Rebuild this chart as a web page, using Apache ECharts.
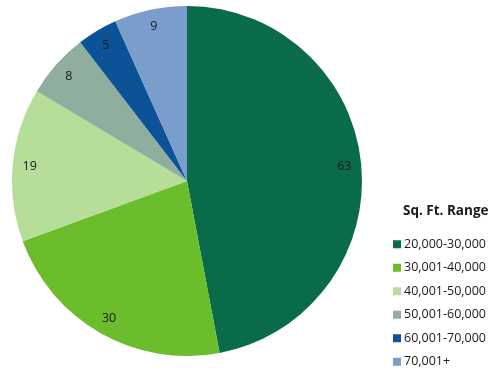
<!DOCTYPE html>
<html>
<head>
<meta charset="utf-8">
<script src="https://cdn.jsdelivr.net/npm/echarts@6/dist/echarts.min.js"></script>
<style>
html,body{margin:0;padding:0;background:#fff;}
#chart{width:495px;height:371px;}
</style>
</head>
<body>
<div id="chart"></div>
<script>
// sq. ft. ranges and counts
var ranges = ['20,000-30,000', '30,001-40,000', '40,001-50,000', '50,001-60,000', '60,001-70,000', '70,001+'];
var counts = [63, 30, 19, 8, 5, 9];
var colors = ['#0a6b4a', '#6cbd2c', '#b6de98', '#8fae9d', '#0b5296', '#7b9dcc'];

var fontName = '"Open Sans", "Noto Sans", sans-serif';

var pieData = [];
for (var i = 0; i < ranges.length; i++) {
    pieData.push({ name: ranges[i], value: counts[i], itemStyle: { color: colors[i] } });
}

var myChart = echarts.init(document.getElementById('chart'));
var option = {
    animation: false,
    title: {
        text: 'Sq. Ft. Range',
        left: 398,
        top: 199,
        textStyle: { fontSize: 13.5, fontWeight: 'bold', color: '#1a1a1a', fontFamily: fontName }
    },
    legend: {
        orient: 'vertical',
        left: 388,
        top: 232,
        height: 150,
        itemWidth: 8,
        itemHeight: 8,
        itemGap: 9,
        icon: 'rect',
        textStyle: { fontSize: 12.5, color: '#1a1a1a', fontFamily: fontName, lineHeight: 14.5, padding: [0, 0, 0, -2] },
        data: ranges
    },
    series: [
        {
            name: 'Sq. Ft. Range',
            type: 'pie',
            center: [187, 181],
            radius: [0, 175],
            startAngle: 90,
            clockwise: true,
            label: { show: false },
            labelLine: { show: false },
            emphasis: { disabled: true },
            data: pieData
        },
        {
            name: 'labels',
            type: 'pie',
            center: [187, 181],
            radius: [135, 175],
            startAngle: 90,
            clockwise: true,
            silent: true,
            itemStyle: { color: 'transparent' },
            label: {
                show: true,
                position: 'inside',
                formatter: '{c}',
                fontSize: 12.5,
                color: '#1a1a1a',
                fontFamily: fontName
            },
            labelLine: { show: false },
            data: counts.map(function (v, i) { return { name: ranges[i], value: v }; })
        }
    ]
};
myChart.setOption(option);
</script>
</body>
</html>
